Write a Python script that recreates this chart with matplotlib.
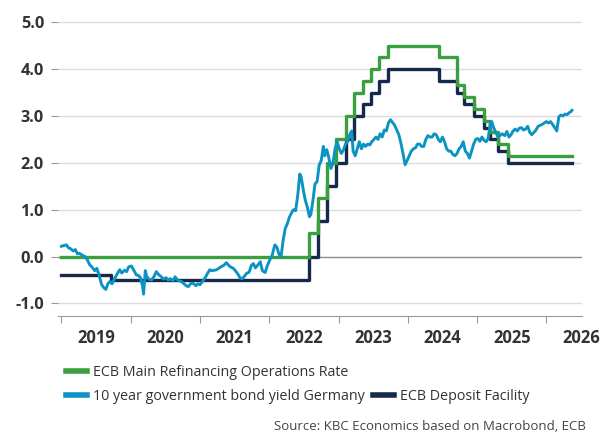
import numpy as np
import pandas as pd
import matplotlib
matplotlib.use("Agg")
from matplotlib import pyplot as plt
from matplotlib.lines import Line2D

plt.rcParams['font.family'] = ['Open Sans', 'DejaVu Sans']
plt.rcParams['axes.unicode_minus'] = False

# ECB policy rates: date of change and new level (%)
depo_dates = ['2019-01-01', '2019-09-18', '2022-07-27', '2022-09-14', '2022-11-02',
              '2022-12-21', '2023-02-08', '2023-03-22', '2023-05-10', '2023-06-21',
              '2023-08-02', '2023-09-20', '2024-06-12', '2024-09-18', '2024-10-23',
              '2024-12-18', '2025-02-05', '2025-03-12', '2025-04-23', '2025-06-11']
depo_rate = [-0.40, -0.50, 0.00, 0.75, 1.50, 2.00, 2.50, 3.00, 3.25, 3.50,
             3.75, 4.00, 3.75, 3.50, 3.25, 3.00, 2.75, 2.50, 2.25, 2.00]

mro_dates = ['2019-01-01', '2022-07-27', '2022-09-14', '2022-11-02', '2022-12-21',
             '2023-02-08', '2023-03-22', '2023-05-10', '2023-06-21', '2023-08-02',
             '2023-09-20', '2024-06-12', '2024-09-18', '2024-10-23', '2024-12-18',
             '2025-02-05', '2025-03-12', '2025-04-23', '2025-06-11']
mro_rate = [0.00, 0.50, 1.25, 2.00, 2.50, 3.00, 3.50, 3.75, 4.00, 4.25,
            4.50, 4.25, 3.65, 3.40, 3.15, 2.90, 2.65, 2.40, 2.15]

last_date = '2026-05-14'

# German 10y Bund yield (%), roughly bi-weekly, x in decimal years
bund_t = [2019.00, 2019.04, 2019.07, 2019.10, 2019.13, 2019.17, 2019.20, 2019.23, 2019.26, 2019.30,
          2019.34, 2019.37, 2019.41, 2019.44, 2019.48, 2019.51, 2019.54, 2019.58, 2019.61, 2019.64,
          2019.67, 2019.70, 2019.73, 2019.77, 2019.80, 2019.84, 2019.87, 2019.91, 2019.94, 2019.97,
          2020.01, 2020.04, 2020.08, 2020.11, 2020.14, 2020.17, 2020.185, 2020.21, 2020.23, 2020.26,
          2020.30, 2020.33, 2020.37, 2020.40, 2020.44, 2020.47, 2020.51, 2020.54, 2020.57, 2020.61,
          2020.64, 2020.67, 2020.70, 2020.73, 2020.77, 2020.80, 2020.83, 2020.87, 2020.90, 2020.94,
          2020.97, 2021.00, 2021.04, 2021.07, 2021.10, 2021.14, 2021.17, 2021.21, 2021.24, 2021.27,
          2021.31, 2021.34, 2021.38, 2021.41, 2021.44, 2021.48, 2021.51, 2021.55, 2021.58, 2021.61,
          2021.64, 2021.67, 2021.71, 2021.74, 2021.77, 2021.80, 2021.84, 2021.87, 2021.90, 2021.94,
          2021.97, 2022.01, 2022.04, 2022.08, 2022.11, 2022.14, 2022.17, 2022.20, 2022.23, 2022.26,
          2022.29, 2022.32, 2022.35, 2022.38, 2022.41, 2022.44, 2022.46, 2022.49, 2022.52, 2022.55,
          2022.58, 2022.60, 2022.63, 2022.66, 2022.69, 2022.72, 2022.75, 2022.78, 2022.80, 2022.83,
          2022.86, 2022.89, 2022.92, 2022.95, 2022.98, 2023.01, 2023.04, 2023.07, 2023.10, 2023.13,
          2023.16, 2023.19, 2023.21, 2023.24, 2023.27, 2023.30, 2023.33, 2023.36, 2023.39, 2023.42,
          2023.45, 2023.48, 2023.51, 2023.54, 2023.57, 2023.60, 2023.63, 2023.66, 2023.69, 2023.72,
          2023.75, 2023.78, 2023.81, 2023.84, 2023.87, 2023.90, 2023.93, 2023.96, 2023.99, 2024.02,
          2024.05, 2024.08, 2024.11, 2024.14, 2024.17, 2024.20, 2024.23, 2024.26, 2024.29, 2024.32,
          2024.35, 2024.38, 2024.41, 2024.44, 2024.47, 2024.50, 2024.53, 2024.56, 2024.59, 2024.62,
          2024.65, 2024.68, 2024.71, 2024.74, 2024.77, 2024.80, 2024.83, 2024.86, 2024.89, 2024.92,
          2024.95, 2024.98, 2025.01, 2025.04, 2025.07, 2025.10, 2025.13, 2025.16, 2025.19, 2025.21,
          2025.24, 2025.27, 2025.30, 2025.33, 2025.36, 2025.40, 2025.43, 2025.46, 2025.49, 2025.52,
          2025.55, 2025.58, 2025.61, 2025.64, 2025.67, 2025.70, 2025.73, 2025.76, 2025.79, 2025.82,
          2025.85, 2025.88, 2025.91, 2025.94, 2025.97, 2026.00, 2026.03, 2026.06, 2026.09, 2026.12,
          2026.15, 2026.18, 2026.21, 2026.24, 2026.27, 2026.30, 2026.33, 2026.36, 2026.37]
bund_y = [0.22, 0.24, 0.25, 0.19, 0.17, 0.12, 0.15, 0.06, 0.07, 0.03,
          0.00, -0.06, -0.18, -0.22, -0.30, -0.25, -0.38, -0.60, -0.66, -0.70,
          -0.58, -0.53, -0.58, -0.46, -0.38, -0.28, -0.35, -0.29, -0.32, -0.22,
          -0.20, -0.28, -0.39, -0.40, -0.45, -0.62, -0.80, -0.30, -0.42, -0.48,
          -0.50, -0.44, -0.32, -0.38, -0.43, -0.48, -0.45, -0.50, -0.47, -0.52,
          -0.43, -0.49, -0.52, -0.53, -0.58, -0.62, -0.64, -0.57, -0.57, -0.62,
          -0.58, -0.60, -0.52, -0.46, -0.38, -0.28, -0.30, -0.29, -0.28, -0.25,
          -0.21, -0.19, -0.13, -0.18, -0.22, -0.25, -0.30, -0.38, -0.46, -0.47,
          -0.42, -0.36, -0.33, -0.19, -0.15, -0.24, -0.17, -0.11, -0.30, -0.34,
          -0.20, -0.06, 0.02, 0.25, 0.20, 0.05, 0.00, 0.35, 0.60, 0.70,
          0.84, 0.93, 1.00, 0.98, 1.30, 1.76, 1.70, 1.43, 1.20, 1.05,
          0.85, 0.90, 1.20, 1.55, 1.60, 1.95, 2.05, 2.35, 2.15, 2.28,
          2.10, 1.88, 2.00, 2.30, 2.45, 2.30, 2.20, 2.27, 2.40, 2.45,
          2.60, 2.68, 2.25, 2.15, 2.30, 2.45, 2.30, 2.40, 2.35, 2.40,
          2.38, 2.45, 2.50, 2.55, 2.50, 2.62, 2.55, 2.70, 2.68, 2.85,
          2.92, 2.86, 2.80, 2.70, 2.60, 2.42, 2.20, 1.96, 2.05, 2.15,
          2.25, 2.30, 2.32, 2.40, 2.40, 2.35, 2.35, 2.50, 2.58, 2.55,
          2.55, 2.62, 2.60, 2.50, 2.45, 2.55, 2.45, 2.30, 2.25, 2.25,
          2.18, 2.15, 2.20, 2.30, 2.35, 2.45, 2.25, 2.20, 2.10, 2.25,
          2.40, 2.50, 2.52, 2.46, 2.55, 2.48, 2.45, 2.52, 2.85, 2.88,
          2.75, 2.65, 2.55, 2.58, 2.62, 2.58, 2.67, 2.55, 2.60, 2.68,
          2.72, 2.68, 2.74, 2.75, 2.70, 2.72, 2.78, 2.65, 2.60, 2.65,
          2.70, 2.78, 2.80, 2.82, 2.85, 2.88, 2.85, 2.88, 2.82, 2.75,
          2.68, 2.98, 3.02, 3.00, 3.04, 3.03, 3.07, 3.10, 3.12]

years = list(range(2019, 2027))

GREEN = '#3a9f3f'
NAVY = '#16294a'
BLUE = '#0b94c3'
TXT = '#333333'


def to_year(dates):
    d = pd.to_datetime(dates)
    start = pd.to_datetime(d.year.astype(str) + '-01-01')
    nxt = pd.to_datetime((d.year + 1).astype(str) + '-01-01')
    return np.asarray(d.year + (d - start) / (nxt - start), dtype=float)


def step_xy(dates, rates):
    x = np.append(to_year(dates), to_year([last_date]))
    y = np.append(rates, rates[-1])
    return x, y


fig = plt.figure(figsize=(6.12, 4.37), dpi=100)
ax = fig.add_axes([0.0948, 0.2776, 0.8557, 0.677])

for v in range(-1, 6):
    ax.axhline(v, color='#8c8c8c' if v == 0 else '#dcdcdc', lw=1.0, zorder=1)

x, y = step_xy(depo_dates, depo_rate)
ax.step(x, y, where='post', color=NAVY, lw=2.4, zorder=3)
x, y = step_xy(mro_dates, mro_rate)
ax.step(x, y, where='post', color=GREEN, lw=2.4, zorder=4)
ax.plot(bund_t, bund_y, color=BLUE, lw=2.1, zorder=5)

ax.set_xlim(2018.95, 2026.51)
ax.set_ylim(-1.26, 5.05)

for s in ['top', 'right', 'left']:
    ax.spines[s].set_visible(False)
ax.spines['bottom'].set_color('#9a9a9a')

ax.set_yticks(range(-1, 6))
ax.set_yticklabels(['%.1f' % v for v in range(-1, 6)])
ax.tick_params(axis='y', length=5, color='#9a9a9a', pad=5, labelsize=11.8, labelcolor=TXT)

ax.set_xticks(years)
ax.set_xticklabels([])
ax.set_xticks([yr + 0.5 for yr in years], minor=True)
ax.set_xticklabels([str(yr) for yr in years], minor=True)
ax.tick_params(axis='x', which='major', length=5, color='#9a9a9a')
ax.tick_params(axis='x', which='minor', length=0, pad=9.5, labelsize=12, labelcolor=TXT)
for lab in ax.get_yticklabels() + ax.get_xticklabels(minor=True):
    lab.set_fontweight('bold')

h_mro = Line2D([], [], color=GREEN, lw=4)
h_bund = Line2D([], [], color=BLUE, lw=4)
h_depo = Line2D([], [], color=NAVY, lw=4)
leg_kw = dict(frameon=False, fontsize=10.3, handlelength=1.47, handletextpad=0.42,
              borderaxespad=0, borderpad=0, labelcolor=TXT, loc='center left')
fig.legend([h_mro], ['ECB Main Refinancing Operations Rate'],
           bbox_to_anchor=(66 / 612, 1 - 373 / 437), **leg_kw)
fig.legend([h_bund, h_depo], ['10 year government bond yield Germany', 'ECB Deposit Facility'],
           bbox_to_anchor=(66 / 612, 1 - 397 / 437), ncol=2, columnspacing=0.56, **leg_kw)

fig.text(586 / 612, 1 - 427 / 437, 'Source: KBC Economics based on Macrobond, ECB',
         ha='right', va='center', fontsize=9.5, color='#444444')

fig.savefig('out.png', dpi=100)
